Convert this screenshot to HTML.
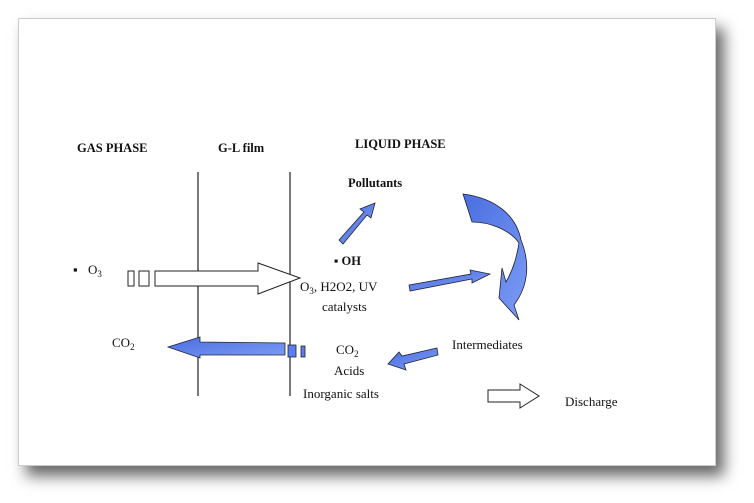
<!DOCTYPE html>
<html><head><style>
body{margin:0;width:754px;height:503px;background:#fff;overflow:hidden;position:relative}
#box{position:absolute;left:18px;top:18px;width:696px;height:446px;background:#fff;border:1px solid #ccc;box-shadow:8px 10px 14px rgba(0,0,0,0.6)}
svg{position:absolute;left:0;top:0}
text{font-family:"Liberation Serif",serif;font-size:13px;fill:#111}
.b{font-weight:bold;font-size:12.5px}
</style></head><body>
<div id="box"></div>
<svg width="754" height="503">
<defs><linearGradient id="g" x1="0" y1="0" x2="1" y2="1"><stop offset="0" stop-color="#4a6ee0"/><stop offset="1" stop-color="#7c9cf5"/></linearGradient></defs>
<text class="b" x="77" y="152">GAS PHASE</text>
<text class="b" x="218" y="152">G-L film</text>
<text class="b" x="355" y="148">LIQUID PHASE</text>
<text class="b" x="348" y="187">Pollutants</text>
<line x1="198" y1="172" x2="198" y2="396" stroke="#222" stroke-width="1.2"/>
<line x1="290" y1="172" x2="290" y2="396" stroke="#222" stroke-width="1.2"/>
<text x="73" y="274">▪</text><text x="88" y="274">O<tspan font-size="9" dy="3">3</tspan></text>
<rect x="128" y="271" width="6" height="15" fill="#fff" stroke="#222"/>
<rect x="139" y="271" width="10" height="15" fill="#fff" stroke="#222"/>
<polygon points="155,271 258,271 258,263 300,278 258,294 258,286 155,286" fill="#fff" stroke="#222"/>
<text class="b" x="334" y="265">▪ OH</text>
<text x="300" y="291">O<tspan font-size="9" dy="3">3</tspan><tspan dy="-3">, H2O2, UV</tspan></text>
<text x="322" y="311">catalysts</text>
<text x="112" y="347">CO<tspan font-size="9" dy="3">2</tspan></text>
<polygon points="168,347 200,337 200,342 285,343 285,355 200,355 200,358" fill="url(#g)" stroke="#223" stroke-width="0.8"/>
<rect x="288" y="345" width="8" height="12" fill="#5a7ef0" stroke="#223" stroke-width="0.8"/>
<rect x="301" y="346" width="4" height="11" fill="#5a7ef0" stroke="#223" stroke-width="0.8"/>
<polygon points="339,240 364,212 360,209 375,203 371,218 367,215 343,244" fill="url(#g)" stroke="#223" stroke-width="0.8"/>
<polygon points="409,285 471,274 470,270 490,274 472,283 472,279 410,291" fill="url(#g)" stroke="#223" stroke-width="0.8"/>
<path d="M463,194 C495,198 516,215 521,240 C530,262 529,285 514,305 L519,320 L499,298 L502,268 L506,282 C514,268 517,255 519,243 C510,230 490,222 472,222 Z" fill="url(#g)" stroke="#223" stroke-width="0.8"/>
<polygon points="437,348 438,355 404,364 406,370 388,364 399,352 402,356" fill="url(#g)" stroke="#223" stroke-width="0.8"/>
<text x="336" y="354">CO<tspan font-size="9" dy="3">2</tspan></text>
<text x="334" y="375">Acids</text>
<text x="303" y="398">Inorganic salts</text>
<text x="452" y="349">Intermediates</text>
<polygon points="488,390 520,390 520,384 539,396 520,408 520,402 488,402" fill="#fff" stroke="#222"/>
<text x="565" y="406">Discharge</text>
</svg>
</body></html>
